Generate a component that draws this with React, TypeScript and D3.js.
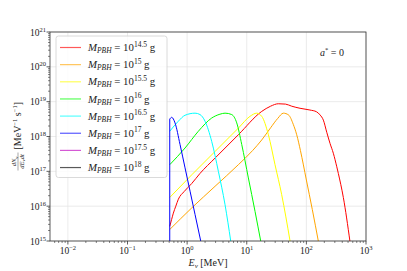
import React from "react";
import * as d3 from "d3";

// ---- data (log10 of E in MeV, log10 of dN/dEdt) ----
const massLabels = ["14.5", "15", "15.5", "16", "16.5", "17", "17.5", "18"];
const seriesColors = ["#ff0000", "#ffa500", "#ffff00", "#00ff00", "#00ffff", "#0000ff", "#bf00bf", "#000000"];

const logE_145 = [-0.2916, -0.26, -0.231, -0.19, -0.147, -0.05, 0.077, 0.216, 0.468, 0.859, 1.251, 1.4, 1.53, 1.65, 1.754, 1.894, 2.06, 2.17, 2.229, 2.285, 2.342, 2.397, 2.452, 2.51, 2.536, 2.62, 2.73];
const logN_145 = [15.42, 15.62, 15.8, 16.0, 16.2, 16.42, 16.65, 16.94, 17.38, 18.05, 18.72, 18.87, 18.94, 18.93, 18.87, 18.81, 18.76, 18.71, 18.62, 18.47, 18.12, 17.8, 17.52, 17.13, 16.94, 16.25, 15.0];

const logE_15 = [-0.2916, 0.077, 0.468, 0.859, 1.1, 1.251, 1.4, 1.52, 1.614, 1.7, 1.78, 1.838, 1.9, 2.0, 2.1, 2.2];
const logN_15 = [15.33, 15.95, 16.57, 17.19, 17.6, 17.9, 18.25, 18.52, 18.67, 18.62, 18.35, 18.05, 17.6, 16.75, 15.9, 15.0];

const logE_155 = [-0.2916, 0.077, 0.468, 0.859, 1.055, 1.167, 1.251, 1.363, 1.474, 1.586, 1.726];
const logN_155 = [16.25, 16.9, 17.57, 18.24, 18.58, 18.67, 18.58, 18.05, 17.19, 16.33, 15.0];

const logE_16 = [-0.2916, -0.035, 0.188, 0.412, 0.55, 0.636, 0.748, 0.832, 0.916, 1.027, 1.139, 1.234];
const logN_16 = [17.19, 17.67, 18.15, 18.53, 18.64, 18.67, 18.63, 18.39, 17.77, 16.81, 15.85, 15.0];

const logE_165 = [-0.2916, -0.147, -0.035, 0.133, 0.216, 0.3, 0.412, 0.524, 0.636, 0.731];
const logN_165 = [18.15, 18.44, 18.61, 18.67, 18.63, 18.44, 17.86, 17.0, 16.04, 15.0];

const logE_17 = [-0.2916, -0.259, -0.203, -0.119, -0.035, 0.049, 0.133, 0.228];
const logN_17 = [18.5, 18.55, 18.39, 17.77, 17.1, 16.43, 15.76, 15.0];

const logE_175: number[] = [];
const logN_175: number[] = [];
const logE_18: number[] = [];
const logN_18: number[] = [];

const seriesE = [logE_145, logE_15, logE_155, logE_16, logE_165, logE_17, logE_175, logE_18];
const seriesN = [logN_145, logN_15, logN_155, logN_16, logN_165, logN_17, logN_175, logN_18];

const xTickExps = [-2, -1, 0, 1, 2, 3];
const yTickExps = [15, 16, 17, 18, 19, 20, 21];

// ---- layout ----
const W = 407, H = 271;
const L = 50, R = 366, T = 32, B = 241;
const FONT = "'Liberation Serif', 'DejaVu Serif', serif";

const x = d3.scaleLog().domain([Math.pow(10, -2.3), 1e3]).range([L, R]);
const y = d3.scaleLog().domain([1e15, 1e21]).range([B, T]);

function minorTicks(lo: number, hi: number) {
  const out: number[] = [];
  for (let k = lo; k < hi; k++) for (let m = 2; m <= 9; m++) out.push(m * Math.pow(10, k));
  return out;
}

const sup = (e: number) => (e < 0 ? "\u2212" + Math.abs(e) : String(e));

export default function App() {
  const line = d3
    .line<[number, number]>()
    .x((d) => x(Math.pow(10, d[0])))
    .y((d) => y(Math.pow(10, d[1])))
    .curve(d3.curveMonotoneX);

  const xMinor = minorTicks(-3, 3).filter((v) => v >= x.domain()[0] && v <= 1e3);
  const yMinor = minorTicks(15, 21);

  const legendY0 = 47.5, legendDy = 17.15;

  return (
    <svg width={W} height={H} style={{ position: "absolute", left: 0, top: 0 }} fontFamily={FONT}>
      <defs>
        <clipPath id="plotclip">
          <rect x={L} y={T} width={R - L} height={B - T} />
        </clipPath>
      </defs>
      <rect x={0} y={0} width={W} height={H} fill="#fff" />
      {/* grid */}
      {xTickExps.map((e) => (
        <line key={"gx" + e} x1={x(Math.pow(10, e))} x2={x(Math.pow(10, e))} y1={T} y2={B} stroke="#e6e6e6" strokeWidth={0.8} />
      ))}
      {yTickExps.map((e) => (
        <line key={"gy" + e} x1={L} x2={R} y1={y(Math.pow(10, e))} y2={y(Math.pow(10, e))} stroke="#e6e6e6" strokeWidth={0.8} />
      ))}
      {/* curves */}
      <g clipPath="url(#plotclip)">
        {seriesE.map((es, i) => {
          if (es.length === 0) return null;
          const pts = es.map((e, j) => [e, seriesN[i][j]] as [number, number]);
          return <path key={"c" + i} d={line(pts) || ""} fill="none" stroke={seriesColors[i]} strokeWidth={1} />;
        })}
        <line
          x1={x(Math.pow(10, logE_17[0]))}
          x2={x(Math.pow(10, logE_17[0]))}
          y1={y(1e15) + 2}
          y2={y(Math.pow(10, logN_17[0]))}
          stroke={seriesColors[5]}
          strokeWidth={1}
        />
      </g>
      {/* spines */}
      <rect x={L} y={T} width={R - L} height={B - T} fill="none" stroke="#333" strokeWidth={0.8} />
      {/* x ticks */}
      {xTickExps.map((e) => {
        const px = x(Math.pow(10, e));
        return (
          <g key={"xt" + e}>
            <line x1={px} x2={px} y1={B} y2={B + 3.5} stroke="#333" strokeWidth={0.8} />
            <text x={px} y={254} textAnchor="middle" fontSize={9.5} fill="#222">
              10<tspan fontSize={6.5} dy={-4}>{sup(e)}</tspan>
            </text>
          </g>
        );
      })}
      {xMinor.map((v, i) => (
        <line key={"xm" + i} x1={x(v)} x2={x(v)} y1={B} y2={B + 2} stroke="#333" strokeWidth={0.6} />
      ))}
      {/* y ticks */}
      {yTickExps.map((e) => {
        const py = y(Math.pow(10, e));
        return (
          <g key={"yt" + e}>
            <line x1={L - 3.5} x2={L} y1={py} y2={py} stroke="#333" strokeWidth={0.8} />
            <text x={46} y={py + 3.5} textAnchor="end" fontSize={9.5} fill="#222">
              10<tspan fontSize={6.5} dy={-4}>{sup(e)}</tspan>
            </text>
          </g>
        );
      })}
      {yMinor.map((v, i) => (
        <line key={"ym" + i} x1={L - 2} x2={L} y1={y(v)} y2={y(v)} stroke="#333" strokeWidth={0.6} />
      ))}
      {/* x label */}
      <text x={(L + R) / 2} y={266} textAnchor="middle" fontSize={10} fill="#222">
        <tspan fontStyle="italic">E</tspan>
        <tspan fontStyle="italic" fontSize={7} dy={2}>ν</tspan>
        <tspan dy={-2}> [MeV]</tspan>
      </text>
      {/* y label */}
      <g transform={`translate(21, ${(T + B) / 2 - 6}) rotate(-90)`}>
        <text x={-31} y={-5} textAnchor="middle" fontSize={6.5} fontStyle="italic" fill="#222">
          dN<tspan fontSize={4.8} dy={1.5}>ν</tspan>
        </text>
        <line x1={-40} x2={-22} y1={-3} y2={-3} stroke="#222" strokeWidth={0.4} />
        <text x={-31} y={2.8} textAnchor="middle" fontSize={6.5} fontStyle="italic" fill="#222">
          dE<tspan fontSize={4.8} dy={1.5}>ν</tspan><tspan dy={-1.5}>dt</tspan>
        </text>
        <text x={-19} y={0} textAnchor="start" fontSize={10} fill="#222">
          [MeV<tspan fontSize={6.5} dy={-4}>−1</tspan>
          <tspan dy={4}> s</tspan>
          <tspan fontSize={6.5} dy={-4}>−1</tspan>
          <tspan dy={4}>]</tspan>
        </text>
      </g>
      {/* annotation */}
      <text x={320} y={56} fontSize={10} fill="#222">
        <tspan fontStyle="italic">a</tspan>
        <tspan fontSize={6.5} dy={-4}>*</tspan>
        <tspan dy={4}> = 0</tspan>
      </text>
      {/* legend */}
      <rect x={56} y={36} width={111} height={141.5} rx={2.5} fill="#fff" fillOpacity={0.8} stroke="#d0d0d0" strokeWidth={0.8} />
      {massLabels.map((m, i) => {
        const ly = legendY0 + i * legendDy;
        return (
          <g key={"lg" + i}>
            <line x1={60} x2={81} y1={ly} y2={ly} stroke={seriesColors[i]} strokeWidth={1.2} strokeOpacity={0.65} />
            <text x={88} y={ly + 3.6} fontSize={10.8} fill="#222">
              <tspan fontStyle="italic">M</tspan>
              <tspan fontStyle="italic" fontSize={7.5} dy={2}>PBH</tspan>
              <tspan dy={-2}> = 10</tspan>
              <tspan fontSize={7.5} dy={-4.5}>{m}</tspan>
              <tspan dy={4.5}> g</tspan>
            </text>
          </g>
        );
      })}
    </svg>
  );
}
